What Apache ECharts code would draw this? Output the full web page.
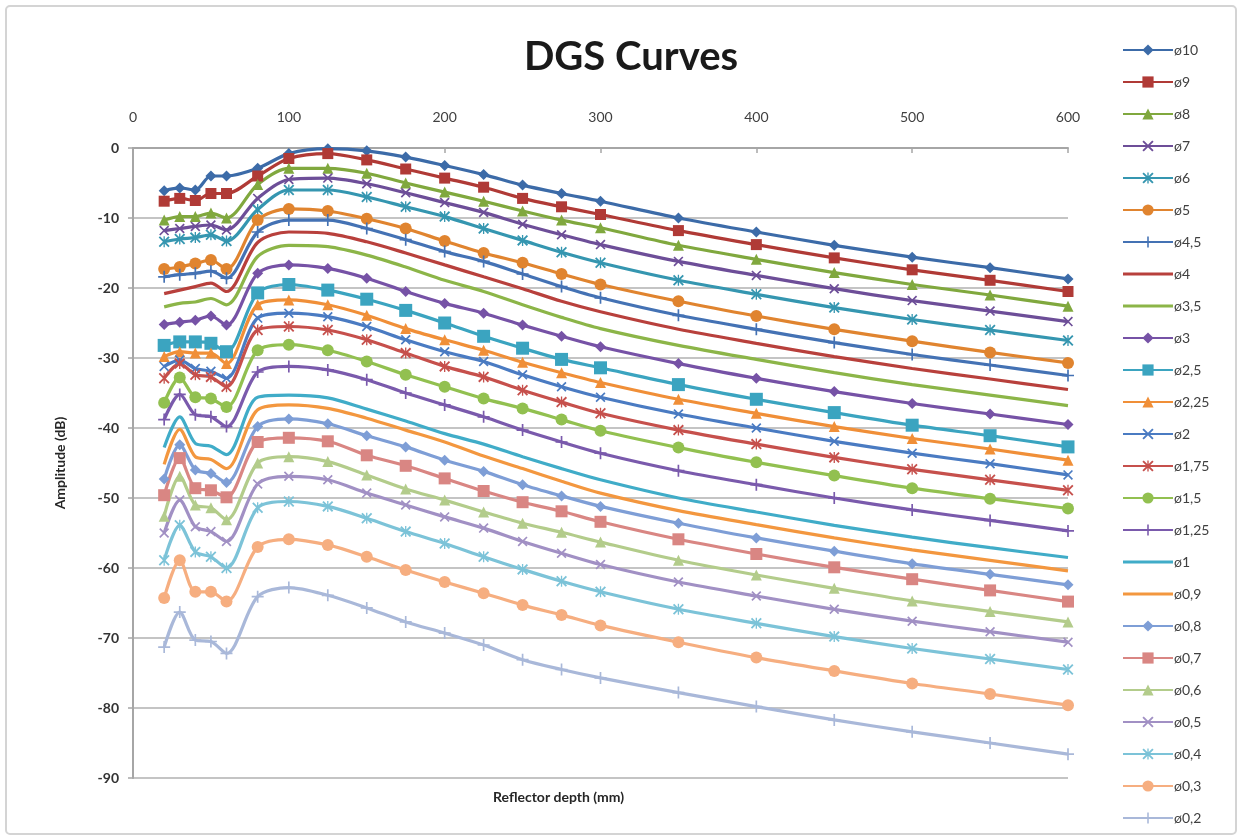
<!DOCTYPE html>
<html>
<head>
<meta charset="utf-8">
<script src="https://cdn.jsdelivr.net/npm/echarts@6/dist/echarts.min.js"></script>
<style>
html,body{margin:0;padding:0;background:#fff;}
#chart{width:1242px;height:840px;}
</style>
</head>
<body>
<div id="chart"></div>
<script>
// Reflector depth (mm)
const depths = [20,30,40,50,60,80,100,125,150,175,200,225,250,275,300,350,400,450,500,550,600];

// Amplitude (dB) per reflector diameter
const amp_10   = [-6.1,-5.7,-6.0,-4.0,-4.0,-2.9,-0.8,-0.1,-0.4,-1.3,-2.5,-3.8,-5.3,-6.5,-7.6,-10.0,-12.0,-13.9,-15.6,-17.1,-18.7];
const amp_9    = [-7.6,-7.2,-7.5,-6.5,-6.5,-4.0,-1.5,-0.8,-1.7,-3.0,-4.3,-5.6,-7.2,-8.4,-9.5,-11.8,-13.8,-15.7,-17.4,-18.9,-20.5];
const amp_8    = [-10.3,-9.8,-9.8,-9.3,-10.0,-5.2,-2.9,-2.9,-3.6,-5.0,-6.3,-7.6,-9.0,-10.3,-11.4,-13.9,-15.9,-17.8,-19.5,-21.0,-22.6];
const amp_7    = [-11.8,-11.5,-11.2,-11.0,-11.7,-7.2,-4.5,-4.3,-5.1,-6.4,-7.8,-9.2,-10.9,-12.4,-13.8,-16.2,-18.2,-20.1,-21.8,-23.3,-24.8];
const amp_6    = [-13.4,-13.0,-12.8,-12.4,-13.3,-8.8,-6.0,-6.0,-7.0,-8.4,-9.8,-11.5,-13.2,-14.9,-16.4,-18.9,-20.9,-22.8,-24.5,-26.0,-27.5];
const amp_5    = [-17.3,-17.0,-16.5,-16.0,-17.3,-10.3,-8.7,-9.0,-10.1,-11.5,-13.3,-15.0,-16.4,-18.0,-19.5,-21.9,-24.0,-25.9,-27.6,-29.2,-30.7];
const amp_4_5  = [-18.4,-18.1,-17.9,-17.6,-18.6,-12.0,-10.3,-10.3,-11.5,-13.1,-14.8,-16.2,-18.0,-19.8,-21.4,-23.9,-25.9,-27.8,-29.5,-31.0,-32.5];
const amp_4    = [-20.8,-20.3,-19.8,-19.3,-20.5,-13.5,-12.0,-12.2,-13.4,-15.0,-16.7,-18.4,-20.1,-21.9,-23.4,-25.9,-27.9,-29.8,-31.5,-33.0,-34.5];
const amp_3_5  = [-22.7,-22.2,-22.0,-21.5,-22.4,-15.5,-13.9,-14.1,-15.3,-17.0,-18.9,-20.5,-22.4,-24.2,-25.8,-28.2,-30.2,-32.1,-33.8,-35.3,-36.8];
const amp_3    = [-25.2,-24.9,-24.6,-24.0,-25.3,-17.9,-16.7,-17.2,-18.6,-20.5,-22.2,-23.6,-25.3,-26.9,-28.4,-30.8,-32.9,-34.8,-36.5,-38.0,-39.5];
const amp_2_5  = [-28.2,-27.7,-27.7,-27.9,-29.1,-20.7,-19.5,-20.3,-21.6,-23.2,-25.0,-26.9,-28.6,-30.2,-31.4,-33.8,-35.9,-37.8,-39.6,-41.1,-42.7];
const amp_2_25 = [-29.8,-29.1,-29.3,-29.3,-30.8,-22.4,-21.7,-22.4,-23.9,-25.8,-27.4,-28.9,-30.6,-32.1,-33.5,-35.9,-37.9,-39.8,-41.5,-43.0,-44.6];
const amp_2    = [-31.2,-30.3,-31.5,-31.9,-32.9,-24.3,-23.6,-24.1,-25.5,-27.4,-29.1,-30.5,-32.4,-34.1,-35.6,-38.0,-40.0,-41.9,-43.6,-45.1,-46.7];
const amp_1_75 = [-32.9,-30.8,-32.4,-32.7,-34.1,-26.0,-25.5,-26.0,-27.4,-29.3,-31.2,-32.7,-34.6,-36.3,-37.9,-40.3,-42.3,-44.2,-45.9,-47.4,-48.9];
const amp_1_5  = [-36.4,-32.8,-35.6,-35.8,-37.0,-28.9,-28.1,-28.9,-30.5,-32.4,-34.1,-35.8,-37.2,-38.8,-40.4,-42.8,-44.9,-46.8,-48.6,-50.1,-51.5];
const amp_1_25 = [-38.8,-35.2,-38.1,-38.4,-39.8,-32.0,-31.2,-31.7,-33.1,-35.0,-36.7,-38.4,-40.3,-42.0,-43.6,-46.1,-48.1,-50.0,-51.7,-53.2,-54.7];
const amp_1    = [-42.8,-38.4,-42.2,-42.6,-43.8,-35.6,-35.3,-35.7,-37.3,-39.0,-40.8,-42.3,-44.1,-45.8,-47.4,-50.0,-52.0,-53.9,-55.6,-57.1,-58.5];
const amp_0_9  = [-45.2,-40.2,-44.1,-44.5,-45.8,-37.4,-36.7,-37.2,-38.6,-40.3,-42.0,-44.0,-45.8,-47.6,-49.3,-51.8,-53.8,-55.7,-57.4,-58.9,-60.4];
const amp_0_8  = [-47.3,-42.4,-46.0,-46.5,-47.8,-39.8,-38.7,-39.4,-41.1,-42.7,-44.6,-46.2,-48.1,-49.7,-51.2,-53.6,-55.7,-57.6,-59.4,-60.9,-62.4];
const amp_0_7  = [-49.6,-44.3,-48.6,-48.9,-49.9,-42.0,-41.4,-41.9,-43.9,-45.4,-47.2,-49.0,-50.6,-51.9,-53.4,-55.9,-58.0,-59.9,-61.6,-63.2,-64.8];
const amp_0_6  = [-52.6,-46.9,-51.0,-51.4,-53.1,-45.0,-44.1,-44.8,-46.7,-48.7,-50.3,-52.0,-53.6,-54.9,-56.3,-58.9,-61.0,-62.9,-64.7,-66.2,-67.7];
const amp_0_5  = [-55.0,-50.3,-54.1,-54.8,-56.2,-48.0,-46.9,-47.4,-49.3,-51.0,-52.7,-54.3,-56.2,-57.9,-59.5,-62.0,-64.0,-65.9,-67.6,-69.1,-70.6];
const amp_0_4  = [-58.9,-53.9,-57.7,-58.4,-60.0,-51.4,-50.5,-51.2,-52.9,-54.8,-56.5,-58.4,-60.2,-61.9,-63.4,-65.9,-67.9,-69.8,-71.5,-73.0,-74.5];
const amp_0_3  = [-64.3,-58.9,-63.4,-63.4,-64.8,-57.0,-55.9,-56.7,-58.4,-60.3,-62.0,-63.6,-65.3,-66.7,-68.2,-70.6,-72.8,-74.7,-76.5,-78.0,-79.6];
const amp_0_2  = [-71.3,-66.3,-70.3,-70.5,-72.2,-64.1,-62.8,-63.9,-65.7,-67.7,-69.3,-71.0,-73.1,-74.5,-75.7,-77.8,-79.8,-81.7,-83.4,-85.0,-86.6];

const seriesNames = ['ø10','ø9','ø8','ø7','ø6','ø5','ø4,5','ø4','ø3,5','ø3','ø2,5','ø2,25','ø2','ø1,75','ø1,5','ø1,25','ø1','ø0,9','ø0,8','ø0,7','ø0,6','ø0,5','ø0,4','ø0,3','ø0,2'];
const seriesValues = [amp_10,amp_9,amp_8,amp_7,amp_6,amp_5,amp_4_5,amp_4,amp_3_5,amp_3,amp_2_5,amp_2_25,amp_2,amp_1_75,amp_1_5,amp_1_25,amp_1,amp_0_9,amp_0_8,amp_0_7,amp_0_6,amp_0_5,amp_0_4,amp_0_3,amp_0_2];

const xTicks = [0,100,200,300,400,500,600];
const yTicks = [0,-10,-20,-30,-40,-50,-60,-70,-80,-90];

// styling
const colors = ['#3C6BA8','#B03A36','#80A83E','#6D4E98','#3596B0','#E0842F',
                '#4472B4','#B8403C','#8CB548','#7652A6','#3BA4C0','#F08F38',
                '#4A7BC2','#C6504C','#92C050','#7A5AAC','#40ACC8','#F3973F',
                '#7E9ED6','#D98683','#B3CC8B','#A190C4','#7CC3D8','#F6AE80','#A9B8D9'];
const SYM_X = 'path://M0,1.2 L1.2,0 L10,8.8 L8.8,10 Z M8.8,0 L10,1.2 L1.2,10 L0,8.8 Z';
const SYM_AST = 'path://M0,1.2 L1.2,0 L10,8.8 L8.8,10 Z M8.8,0 L10,1.2 L1.2,10 L0,8.8 Z M4.4,0 L5.6,0 L5.6,10 L4.4,10 Z';
const SYM_PLUS = 'path://M4.3,0 L5.7,0 L5.7,10 L4.3,10 Z M0,4.3 L10,4.3 L10,5.7 L0,5.7 Z';
const LINE_ICON = 'path://M0,0 L50,0 L50,3.2 L0,3.2 Z';
const markerSeq = ['diamond','rect','triangle',SYM_X,SYM_AST,'circle',SYM_PLUS,'none','none',
                   'diamond','rect','triangle',SYM_X,SYM_AST,'circle',SYM_PLUS,'none','none',
                   'diamond','rect','triangle',SYM_X,SYM_AST,'circle',SYM_PLUS];
const sizeSeq = [11,11,11,10,11,12,12,0,0, 11,13,11,10,11,12,12,0,0, 11,12,11,10,11,12,12];

const FONT = 'Lato, "Open Sans", sans-serif';

const series = seriesNames.map((name,i)=>({
  name: name,
  type: 'line',
  data: depths.map((d,j)=>[d, seriesValues[i][j]]),
  smooth: 0.3,
  symbol: markerSeq[i],
  symbolSize: sizeSeq[i],
  showSymbol: markerSeq[i] !== 'none',
  lineStyle: {width: 3.2, color: colors[i]},
  itemStyle: {color: colors[i], borderWidth: 0},
  emphasis: {disabled: true},
  animation: false,
  z: 2
}));

const legendData = seriesNames.map((n,i)=> markerSeq[i] === 'none'
  ? {name: n, icon: LINE_ICON, itemStyle: {color: colors[i]}}
  : {name: n});

const chart = echarts.init(document.getElementById('chart'), null, {renderer: 'canvas'});
chart.setOption({
  backgroundColor: '#ffffff',
  animation: false,
  color: colors,
  textStyle: {fontFamily: FONT},
  title: {
    text: 'DGS Curves',
    left: 626, top: 32,
    textAlign: 'center',
    textStyle: {fontFamily: FONT, fontSize: 40, fontWeight: 'bold', color: '#1a1a1a'}
  },
  grid: {left: 133, right: 174, top: 148, bottom: 62, containLabel: false},
  xAxis: {
    type: 'value',
    position: 'top',
    min: 0, max: 600, interval: 100,
    axisLine: {show: true, onZero: false, lineStyle: {color: '#A6A6A6', width: 2}},
    axisTick: {show: true, inside: true, length: 5, lineStyle: {color: '#A6A6A6', width: 1.5}},
    axisLabel: {margin: 24, fontSize: 14, color: '#404040', fontFamily: FONT,
                formatter: v => xTicks.indexOf(v) >= 0 ? String(v) : ''},
    splitLine: {show: false}
  },
  yAxis: {
    type: 'value',
    min: -90, max: 0, interval: 10,
    name: 'Amplitude (dB)',
    nameLocation: 'middle',
    nameGap: 66,
    nameTextStyle: {fontSize: 14, fontWeight: 'bold', color: '#262626', fontFamily: FONT},
    axisLine: {show: true, onZero: false, lineStyle: {color: '#A6A6A6', width: 2}},
    axisTick: {show: true, length: 5, lineStyle: {color: '#A6A6A6', width: 1.5}},
    axisLabel: {margin: 14, fontSize: 14, color: '#333333', fontWeight: 'bold', fontFamily: FONT,
                formatter: v => yTicks.indexOf(v) >= 0 ? String(v) : ''},
    splitLine: {show: true, lineStyle: {color: '#C4C4C4', width: 2}}
  },
  legend: {
    orient: 'vertical',
    left: 1117, top: 38,
    itemWidth: 50, itemHeight: 14, itemGap: 18,
    data: legendData,
    selectedMode: false,
    textStyle: {fontSize: 14, color: '#404040', fontFamily: FONT, lineHeight: 14, padding: [0,0,0,-4]}
  },
  graphic: [
    {type: 'rect', shape: {x: 6, y: 6, width: 1230, height: 828, r: 4},
     style: {fill: 'none', stroke: '#D4D4D4', lineWidth: 2}, silent: true, z: -1},
    {type: 'text', left: 493, top: 790,
     style: {text: 'Reflector depth (mm)', font: 'bold 14px ' + FONT, fill: '#262626'}, silent: true}
  ],
  series: series
});
</script>
</body>
</html>
